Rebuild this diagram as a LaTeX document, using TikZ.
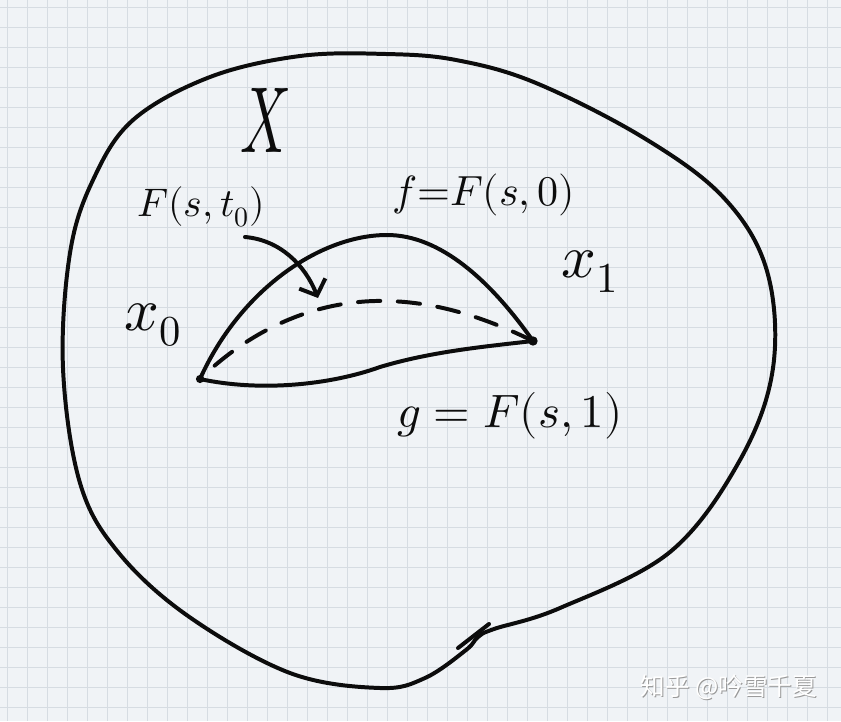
\documentclass[tikz,border=0pt]{standalone}
\usepackage{amsmath}
\usepackage{fontspec}
\usepackage{unicode-math}
\setmathfont{Latin Modern Math}
\newfontfamily\cjk{Noto Sans CJK SC}
\usetikzlibrary{arrows.meta}
\definecolor{paper}{RGB}{240,243,246}
\definecolor{gridline}{RGB}{214,220,226}
\definecolor{ink}{RGB}{12,12,12}

\begin{document}
\begin{tikzpicture}[x=0.03cm, y=-0.03cm,
  hand/.style={ink, line width=3.4pt, line cap=round, line join=round},
  lbl/.style={ink, inner sep=0pt}]
  \useasboundingbox (0,0) rectangle (841,721);
  \fill[paper] (0,0) rectangle (841,721);
  \foreach \i in {7,27,...,827} \draw[gridline, line width=0.6pt] (\i,0) -- (\i,721);
  \foreach \j in {7,27,...,707} \draw[gridline, line width=0.6pt] (0,\j) -- (841,\j);

  \coordinate (x0) at (200,379);
  \coordinate (x1) at (533,341);
  \coordinate (tail) at (245,237);
  \coordinate (tip) at (318,298);
  \coordinate (tickA) at (458,648);
  \coordinate (tickB) at (489,624);

  % space X
  \draw[hand] plot[smooth cycle, tension=0.6] coordinates {
    (386,54) (300,56) (210,77) (133,120) (93,180) (70,253) (63,368)
    (80,483) (118,552) (188,616) (290,673) (380,688) (425,678)
    (466,650) (478,637) (494,629) (560,608)
    (670,552) (740,460) (773,368) (767,271) (724,198) (644,138)
    (536,83) (456,60)};
  \draw[hand] (tickA) -- (tickB);

  % paths f, g and F(s,t_0)
  \draw[hand] (x1) .. controls (490,280) and (440,235) .. (387,235)
    .. controls (320,235) and (240,290) .. (x0);
  \draw[hand] (x0) .. controls (260,392) and (330,385) .. (380,367)
    .. controls (430,352) and (480,347) .. (x1);
  \draw[hand, dash pattern=on 19pt off 15pt] (x1) .. controls (470,310) and (420,300) .. (375,301)
    .. controls (300,303) and (240,340) .. (x0);
  \draw[hand, -{Straight Barb[length=11pt, width=24pt]}] (tail) .. controls (280,240) and (305,265) .. (tip);

  \fill[ink] (x0) circle[radius=3.5pt];
  \fill[ink] (x1) circle[radius=4pt];

  \node[lbl, font=\fontsize{80}{80}\selectfont, xscale=0.6] (X) at (265,120) {$X$};
  \node[lbl, font=\fontsize{34}{34}\selectfont] (Fst) at (201,207) {$F(s,t_0)$};
  \node[lbl, font=\fontsize{36}{36}\selectfont] (feq) at (484,195) {$f{=}F(s,0)$};
  \node[lbl, font=\fontsize{40}{40}\selectfont] (geq) at (510,416) {$g = F(s,1)$};
  \node[lbl, font=\fontsize{52}{52}\selectfont] (lx0) at (153,325) {$x_0$};
  \node[lbl, font=\fontsize{52}{52}\selectfont] (lx1) at (590,272) {$x_1$};

  \node[inner sep=0pt, text=gray!80, font=\cjk\fontsize{21}{21}\selectfont] (wmshadow) at (730,688) {知乎 @吟雪千夏};
  \node[inner sep=0pt, text=white, font=\cjk\fontsize{21}{21}\selectfont] (wm) at (729,687) {知乎 @吟雪千夏};
\end{tikzpicture}
\end{document}
